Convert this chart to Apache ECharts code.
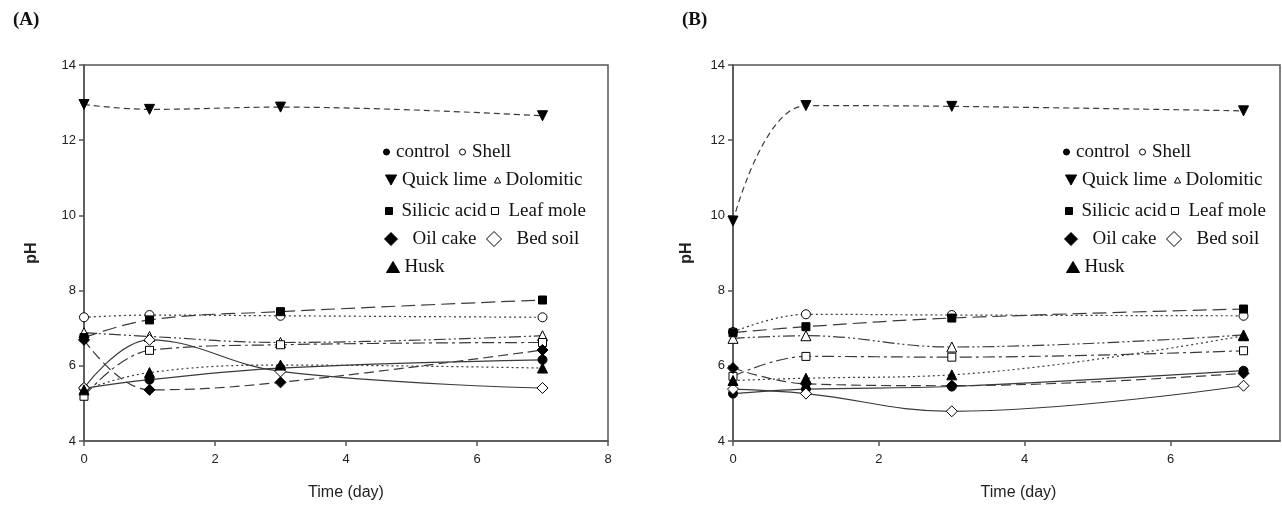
<!DOCTYPE html>
<html>
<head>
<meta charset="utf-8">
<script src="https://cdn.jsdelivr.net/npm/echarts@6/dist/echarts.min.js"></script>
<style>html,body{margin:0;padding:0;background:#fff}#c{width:1282px;height:507px}</style>
</head>
<body>
<div id="c"></div>
<script>
// ---- data ----
const days = [0, 1, 3, 7];
const seriesNames = ['control', 'Shell', 'Quick lime', 'Dolomitic', 'Silicic acid', 'Leaf mole', 'Oil cake', 'Bed soil', 'Husk'];
const yTicks = [4, 6, 8, 10, 12, 14];
const xTicksA = [0, 2, 4, 6, 8];
const xTicksB = [0, 2, 4, 6];

// Panel A
const controlA   = [5.40, 5.63, 5.94, 6.16];
const shellA     = [7.29, 7.35, 7.33, 7.29];
const quickLimeA = [12.95, 12.82, 12.88, 12.65];
const dolomiticA = [6.88, 6.78, 6.62, 6.80];
const silicicA   = [6.75, 7.22, 7.44, 7.75];
const leafMoleA  = [5.19, 6.41, 6.56, 6.62];
const oilCakeA   = [6.69, 5.36, 5.56, 6.42];
const bedSoilA   = [5.41, 6.69, 5.85, 5.41];
const huskA      = [5.36, 5.82, 6.02, 5.94];

// Panel B
const controlB   = [5.26, 5.38, 5.45, 5.87];
const shellB     = [6.90, 7.37, 7.35, 7.33];
const quickLimeB = [9.85, 12.92, 12.90, 12.78];
const dolomiticB = [6.73, 6.80, 6.50, 6.82];
const silicicB   = [6.88, 7.04, 7.27, 7.51];
const leafMoleB  = [5.72, 6.25, 6.23, 6.40];
const oilCakeB   = [5.94, 5.52, 5.47, 5.80];
const bedSoilB   = [5.38, 5.26, 4.79, 5.47];
const huskB      = [5.61, 5.67, 5.76, 6.80];

const panelValues = [
  [controlA, shellA, quickLimeA, dolomiticA, silicicA, leafMoleA, oilCakeA, bedSoilA, huskA],
  [controlB, shellB, quickLimeB, dolomiticB, silicicB, leafMoleB, oilCakeB, bedSoilB, huskB]
];

// ---- styles ----
const downTri = 'path://M0,0L10,0L5,9Z';
const styles = [
  {symbol: 'circle', size: 9, fill: '#000', dash: 'solid'},
  {symbol: 'circle', size: 9, fill: '#fff', dash: [2, 3]},
  {symbol: 'triangle', rotate: 180, size: 10, fill: '#000', dash: [6, 4]},
  {symbol: 'triangle', size: 10, fill: '#fff', dash: [12, 3, 2, 3, 2, 3]},
  {symbol: 'rect', size: 8, fill: '#000', dash: [14, 6]},
  {symbol: 'rect', size: 8, fill: '#fff', dash: [12, 4, 3, 4]},
  {symbol: 'diamond', size: 11, fill: '#000', dash: [10, 5]},
  {symbol: 'diamond', size: 11, fill: '#fff', dash: 'solid'},
  {symbol: 'triangle', size: 10, fill: '#000', dash: [2, 3]}
];

const series = [];
panelValues.forEach((vals, p) => {
  vals.forEach((arr, k) => {
    const s = styles[k];
    series.push({
      name: seriesNames[k],
      type: 'line',
      xAxisIndex: p, yAxisIndex: p,
      smooth: 0.4,
      symbol: s.symbol,
      symbolRotate: s.rotate || 0,
      symbolSize: s.size,
      showAllSymbol: true,
      itemStyle: {color: s.fill, borderColor: '#000', borderWidth: 1},
      lineStyle: {color: '#3a3a3a', width: 1.2, type: s.dash},
      emphasis: {disabled: true},
      data: days.map((d, i) => [d, arr[i]])
    });
  });
});

// legend items: [name, iconLeft, rowCenterY, icon, w, h, fill, textPadLeft]
const legendItems = [
  ['control', 383, 152, 'circle', 9, 6, '#000', 0],
  ['Shell', 459, 152, 'circle', 9, 6, '#fff', 0],
  ['Quick lime', 385, 180, downTri, 12, 10, '#000', 0],
  ['Dolomitic', 494, 180, 'triangle', 6, 6, '#fff', 0],
  ['Silicic acid', 385, 211, 'rect', 7, 7, '#000', 4],
  ['Leaf mole', 491, 211, 'rect', 7, 7, '#fff', 5],
  ['Oil cake', 384, 239, 'diamond', 13, 13, '#000', 10],
  ['Bed soil', 486, 239, 'diamond', 15, 15, '#fff', 10],
  ['Husk', 386, 267, 'triangle', 13, 11, '#000', 0]
];
const legends = [];
[0, 680].forEach(dx => {
  legendItems.forEach(it => {
    legends.push({
      show: true,
      left: it[1] + dx,
      top: it[2] - 11,
      padding: 0,
      itemWidth: it[4],
      itemHeight: it[5],
      itemGap: 0,
      selectedMode: false,
      data: [{name: it[0], icon: it[3], itemStyle: {color: it[6], borderColor: '#000', borderWidth: 1}}],
      textStyle: {fontFamily: 'Liberation Serif', fontSize: 19, color: '#111', padding: [0, 0, 0, it[7]], lineHeight: 22}
    });
  });
});

const axisLabelStyle = {fontFamily: 'Liberation Sans', fontSize: 13, color: '#222'};
const axisLineStyle = {lineStyle: {color: '#555', width: 1.5}};

const chart = echarts.init(document.getElementById('c'), null, {renderer: 'canvas'});
chart.setOption({
  backgroundColor: '#fff',
  animation: false,
  title: [
    {text: '(A)', left: 8, top: 6, textStyle: {fontFamily: 'Liberation Serif', fontWeight: 'bold', fontSize: 19, color: '#111'}},
    {text: '(B)', left: 677, top: 6, textStyle: {fontFamily: 'Liberation Serif', fontWeight: 'bold', fontSize: 19, color: '#111'}}
  ],
  legend: legends,
  grid: [
    {left: 84, right: 674, top: 65, bottom: 66, show: true, borderColor: '#555', borderWidth: 1.5, containLabel: false},
    {left: 733, right: 2, top: 65, bottom: 66, show: true, borderColor: '#555', borderWidth: 1.5, containLabel: false}
  ],
  xAxis: [
    {type: 'value', gridIndex: 0, min: xTicksA[0], max: xTicksA[xTicksA.length - 1], interval: 2,
     name: 'Time (day)', nameLocation: 'middle', nameGap: 44,
     nameTextStyle: {fontFamily: 'Liberation Sans', fontSize: 16, color: '#222'},
     axisLine: axisLineStyle, axisTick: {show: true, inside: false, length: 5, lineStyle: {color: '#555', width: 1.5}},
     axisLabel: Object.assign({margin: 12}, axisLabelStyle), splitLine: {show: false}},
    {type: 'value', gridIndex: 1, min: xTicksB[0], max: 7.5, interval: 2,
     name: 'Time (day)', nameLocation: 'middle', nameGap: 44,
     nameTextStyle: {fontFamily: 'Liberation Sans', fontSize: 16, color: '#222', padding: [0, 0, 0, 24]},
     axisLine: axisLineStyle, axisTick: {show: true, inside: false, length: 5, lineStyle: {color: '#555', width: 1.5}},
     axisLabel: Object.assign({margin: 12, showMaxLabel: false,
       formatter: v => (xTicksB.indexOf(v) >= 0 ? String(v) : '')}, axisLabelStyle), splitLine: {show: false}}
  ],
  yAxis: [
    {type: 'value', gridIndex: 0, min: yTicks[0], max: yTicks[yTicks.length - 1], interval: 2,
     name: 'pH', nameLocation: 'middle', nameGap: 44,
     nameTextStyle: {fontFamily: 'Liberation Sans', fontSize: 16, fontWeight: 'bold', color: '#222'},
     axisLine: axisLineStyle, axisTick: {show: true, inside: false, length: 5, lineStyle: {color: '#555', width: 1.5}},
     axisLabel: Object.assign({margin: 8}, axisLabelStyle), splitLine: {show: false}},
    {type: 'value', gridIndex: 1, min: yTicks[0], max: yTicks[yTicks.length - 1], interval: 2,
     name: 'pH', nameLocation: 'middle', nameGap: 38,
     nameTextStyle: {fontFamily: 'Liberation Sans', fontSize: 16, fontWeight: 'bold', color: '#222'},
     axisLine: axisLineStyle, axisTick: {show: true, inside: false, length: 5, lineStyle: {color: '#555', width: 1.5}},
     axisLabel: Object.assign({margin: 8}, axisLabelStyle), splitLine: {show: false}}
  ],
  series: series
});
</script>
</body>
</html>
